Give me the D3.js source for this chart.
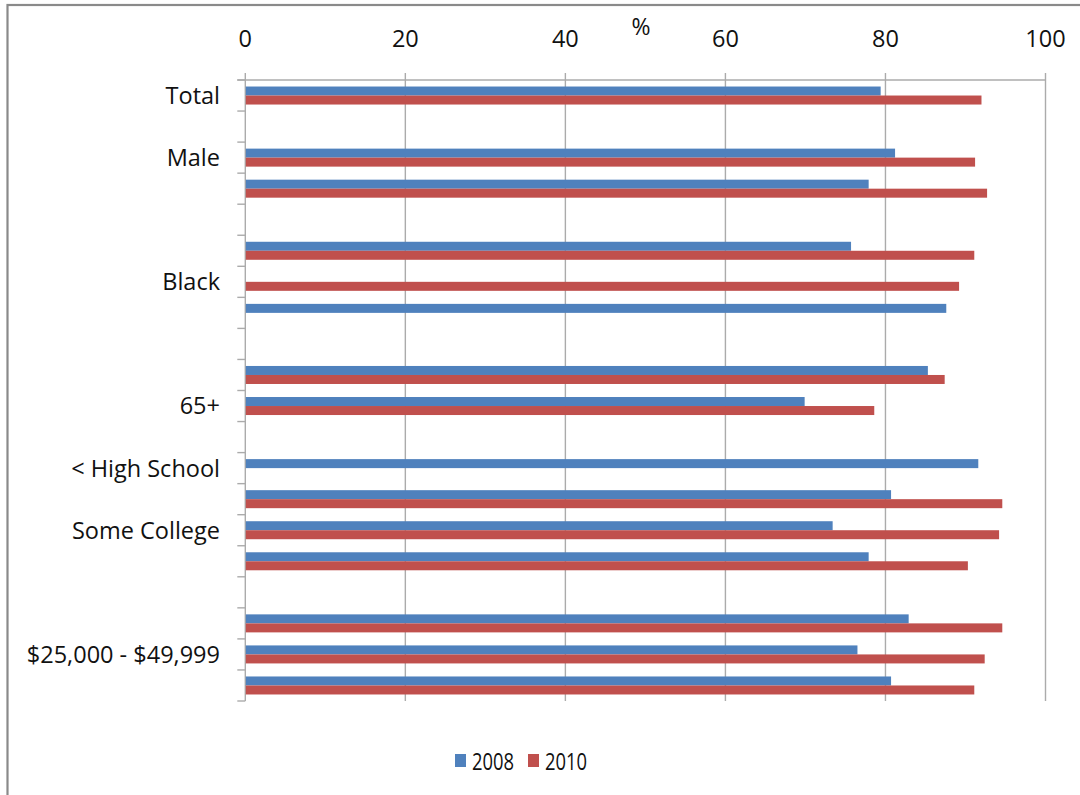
<!DOCTYPE html>
<html>
<head>
<meta charset="utf-8">
<script src="https://cdn.jsdelivr.net/npm/d3@7/dist/d3.min.js"></script>
<style>
  html, body { margin: 0; padding: 0; background: #fff; }
  svg { display: block; font-family: "Open Sans", "Noto Sans", sans-serif; }
</style>
</head>
<body>
<svg id="chart" width="1080" height="795"></svg>
<script>
// ---- data ----
const categories = ["Total", "", "Male", "Female", "", "White", "Black", "Hispanic", "",
  "18-64", "65+", "", "< High School", "High School", "Some College", "College Graduate", "",
  "< $25,000", "$25,000 - $49,999", "$50,000+"];
const categoryIds = categories.map((c, i) => "c" + i);
const shownLabels = [0, 2, 4, 6, 8, 10, 12, 14, 16, 18];
const series = ["2008", "2010"];
const values2008 = [79.4, null, 81.2, 77.9, null, 75.7, null, 87.6, null,
  85.3, 69.9, null, 91.6, 80.7, 73.4, 77.9, null, 82.9, 76.5, 80.7];
const values2010 = [92.0, null, 91.2, 92.7, null, 91.1, 89.2, null, null,
  87.4, 78.6, null, null, 94.6, 94.2, 90.3, null, 94.6, 92.4, 91.1];
const xTicks = [0, 20, 40, 60, 80, 100];
const colors = { "2008": "#4F81BD", "2010": "#C0504D" };
const axisLabel = "%";

// ---- layout ----
const svg = d3.select("#chart");
const x = d3.scaleLinear().domain([0, 100]).range([245.3, 1045.5]);
const y = d3.scaleBand().domain(categoryIds).range([80, 701])
  .paddingInner(0.42).paddingOuter(0.21);
const ySub = d3.scaleBand().domain(series).range([0, y.bandwidth()]);
const gridColor = "#ababab";
const labelSize = 23.5;

// outer frame
svg.append("rect").attr("x", 7.5).attr("y", 5).attr("width", 1200).attr("height", 900)
  .attr("fill", "none").attr("stroke", "#8a8a8a").attr("stroke-width", 2.2);

// vertical gridlines + top ticks
const plotTop = y.range()[0], plotBottom = y.range()[1];
svg.append("g").selectAll("line").data(xTicks.slice(1)).join("line")
  .attr("x1", d => x(d)).attr("x2", d => x(d))
  .attr("y1", plotTop - 7).attr("y2", plotBottom)
  .attr("stroke", gridColor).attr("stroke-width", 1.4);

// top axis line + left axis line
svg.append("line").attr("x1", x(0) - 8).attr("x2", x(100)).attr("y1", plotTop).attr("y2", plotTop)
  .attr("stroke", gridColor).attr("stroke-width", 1.4);
svg.append("line").attr("x1", x(0)).attr("x2", x(0)).attr("y1", plotTop - 7).attr("y2", plotBottom)
  .attr("stroke", gridColor).attr("stroke-width", 1.4);

// category boundary ticks on left axis
const boundaries = d3.range(categories.length + 1).map(i => plotTop + i * y.step());
svg.append("g").selectAll("line").data(boundaries).join("line")
  .attr("x1", x(0) - 8).attr("x2", x(0))
  .attr("y1", d => d).attr("y2", d => d)
  .attr("stroke", gridColor).attr("stroke-width", 1.4);

// x tick labels (top)
svg.append("g").selectAll("text").data(xTicks).join("text")
  .attr("x", d => x(d)).attr("y", 47)
  .attr("text-anchor", "middle").attr("font-size", labelSize).attr("fill", "#111")
  .text(d => d);

// axis title
svg.append("text").attr("x", 641).attr("y", 35).attr("text-anchor", "middle")
  .attr("font-size", 23).attr("fill", "#111").text(axisLabel);

// category labels
svg.append("g").selectAll("text").data(shownLabels.filter(i => categories[i] !== "")).join("text")
  .attr("x", 220).attr("y", i => y(categoryIds[i]) + y.bandwidth() / 2)
  .attr("dy", "0.36em").attr("text-anchor", "end")
  .attr("font-size", labelSize).attr("fill", "#111")
  .text(i => categories[i]);

// bars
const rows = [];
categories.forEach((c, i) => {
  [["2008", values2008[i]], ["2010", values2010[i]]].forEach(([s, v]) => {
    if (v != null) rows.push({ id: categoryIds[i], s, v });
  });
});
svg.append("g").selectAll("rect").data(rows).join("rect")
  .attr("x", x(0) + 0.5)
  .attr("y", d => y(d.id) + ySub(d.s))
  .attr("width", d => x(d.v) - x(0) - 0.5)
  .attr("height", ySub.bandwidth())
  .attr("fill", d => colors[d.s]);

// legend
const legend = svg.append("g");
const legendPos = [{ s: "2008", x: 455 }, { s: "2010", x: 528 }];
legendPos.forEach(p => {
  legend.append("rect").attr("x", p.x).attr("y", 754).attr("width", 11).attr("height", 13)
    .attr("fill", colors[p.s]);
  legend.append("text").attr("x", p.x + 17).attr("y", 769.5)
    .attr("font-size", 24).attr("fill", "#111")
    .attr("textLength", 42).attr("lengthAdjust", "spacingAndGlyphs")
    .text(p.s);
});
</script>
</body>
</html>
